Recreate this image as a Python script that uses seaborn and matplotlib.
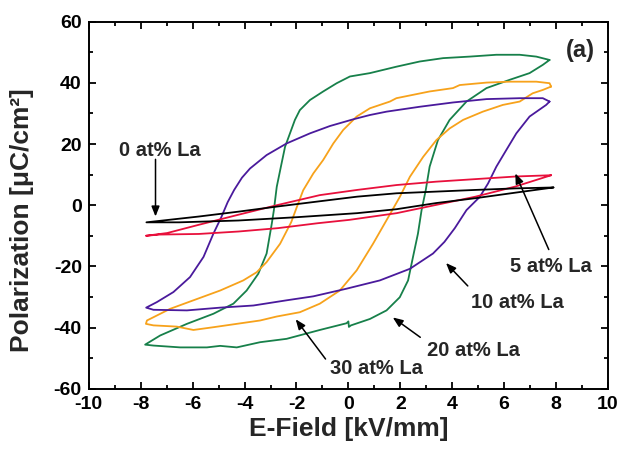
import numpy as np
import pandas as pd
import matplotlib
matplotlib.use("Agg")
import matplotlib.pyplot as plt
from matplotlib.ticker import MultipleLocator
import seaborn as sns

# P-E hysteresis loops, traced from +8 kV/mm down to -8 kV/mm (upper branch)
# and back up to +8 kV/mm (lower branch).

# 0 at% La
e0_up = [7.90, 6.43, 4.90, 1.86, 0.34, -1.19, -2.71, -4.23, -5.76, -7.78]
p0_up = [5.8, 5.5, 5.0, 3.9, 2.8, 1.2, -0.4, -2.1, -3.7, -5.6]
e0_dn = [-7.78, -6.52, -4.23, -1.95, 0.34, 1.86, 3.38, 4.90, 6.43, 7.90]
p0_dn = [-5.6, -5.6, -5.0, -3.9, -2.6, -1.3, 0.7, 2.3, 4.1, 5.8]

# 5 at% La
e5_up = [7.81, 6.47, 3.38, 1.86, 0.34, -1.10, -2.71, -4.23, -5.76, -6.98, -7.80]
p5_up = [9.8, 9.4, 7.7, 6.6, 5.0, 3.3, 0.1, -3.1, -6.4, -9.1, -10.0]
e5_dn = [-7.80, -7.28, -5.76, -4.23, -2.71, -1.19, 0.03, 1.86, 3.38, 4.90, 6.43, 7.81]
p5_dn = [-10.0, -9.6, -9.4, -8.6, -7.5, -5.9, -4.8, -2.6, 0.1, 2.8, 6.1, 9.8]

# 10 at% La
e10_up = [7.75, 7.49, 6.60, 5.32, 4.03, 2.75, 1.47, 0.83, 0.19, -0.71, -1.48,
          -2.38, -3.15, -3.79, -4.10, -4.40, -4.65, -4.90, -5.20, -5.58, -6.10,
          -6.74, -7.38, -7.79]
p10_up = [33.9, 35.0, 35.0, 34.7, 33.6, 32.2, 30.6, 29.5, 28.1, 25.9, 23.5,
          20.2, 16.4, 12.0, 9.0, 5.0, 1.0, -4.0, -9.3, -16.9, -23.5,
          -28.4, -31.7, -33.5]
e10_dn = [-7.79, -7.51, -6.22, -4.94, -3.66, -2.38, -1.35, -0.07, 1.21, 2.37, 3.26,
          3.70, 4.10, 4.55, 5.06, 5.38, 5.70, 6.08, 6.47, 6.98, 7.62, 7.75]
p10_dn = [-33.5, -34.2, -34.4, -33.5, -32.8, -31.1, -29.8, -27.3, -24.6, -20.8, -15.8,
          -12.0, -7.5, -1.6, 2.7, 7.1, 12.6, 18.0, 23.5, 29.0, 32.8, 33.9]

# 20 at% La
e20_up = [7.75, 7.24, 6.60, 5.70, 4.67, 3.65, 2.75, 1.85, 0.83, 0.06, -0.45,
          -0.97, -1.48, -1.87, -2.06, -2.25, -2.44, -2.60, -2.76, -2.87, -2.95,
          -3.15, -3.47, -3.92, -4.43, -5.20, -6.22, -7.25, -7.83]
p20_up = [47.5, 48.6, 49.2, 49.2, 48.6, 48.1, 47.0, 45.3, 43.2, 42.1, 39.9,
          37.2, 34.4, 31.1, 27.9, 23.5, 19.1, 12.6, 6.0, -1.6, -6.0,
          -15.8, -22.4, -27.9, -32.2, -35.5, -38.8, -42.6, -45.6]
e20_dn = [-7.83, -7.51, -6.48, -5.45, -4.94, -4.30, -3.40, -2.38, -1.10, -0.07,
          0.00, 0.02, 0.10, 0.83, 1.47, 1.98, 2.30, 2.49, 2.68, 2.82, 2.98, 3.13,
          3.45, 3.90, 4.55, 5.32, 6.21, 6.98, 7.49, 7.75]
p20_dn = [-45.6, -45.9, -46.5, -46.5, -46.0, -46.5, -44.8, -43.7, -40.8, -38.6,
          -38.0, -39.8, -39.3, -37.2, -34.4, -30.1, -24.6, -16.9, -9.3, -1.6, 4.9, 12.6,
          21.3, 27.9, 33.9, 38.3, 41.0, 43.2, 45.9, 47.5]

# 30 at% La
e30_up = [7.81, 7.75, 7.24, 6.21, 5.32, 4.29, 4.03, 3.13, 1.85, 1.60, 0.83, 0.32,
          -0.20, -0.58, -0.97, -1.35, -1.74, -1.96, -2.20, -2.63, -3.15, -3.53,
          -4.05, -4.94, -5.97, -6.87, -7.76, -7.80]
p30_up = [38.8, 39.9, 40.4, 40.4, 40.1, 39.3, 38.3, 37.2, 35.0, 33.9, 31.7, 29.0,
          24.6, 20.2, 14.8, 10.4, 4.9, 0.0, -5.5, -12.6, -18.6, -21.9,
          -24.6, -27.9, -31.1, -33.9, -37.7, -38.8]
e30_dn = [-7.80, -7.51, -6.61, -5.97, -5.20, -4.30, -3.40, -2.76, -1.87, -1.10,
          -0.33, 0.32, 0.95, 1.47, 1.98, 2.37, 2.88, 3.39, 3.90, 4.42, 5.18, 5.95,
          6.60, 7.10, 7.49, 7.81]
p30_dn = [-38.8, -39.3, -39.7, -40.8, -39.9, -38.8, -37.7, -36.4, -35.0, -32.2,
          -27.9, -21.3, -12.6, -4.9, 2.7, 9.3, 15.8, 21.3, 25.1, 27.9, 30.6, 32.8,
          33.9, 36.6, 37.7, 38.8]

compositions = ["0 at% La", "5 at% La", "10 at% La", "20 at% La", "30 at% La"]
colors = ["#000000", "#e8103c", "#4a1a9c", "#17804a", "#f7a21b"]
loops_e = [e0_up + e0_dn, e5_up + e5_dn, e10_up + e10_dn, e20_up + e20_dn, e30_up + e30_dn]
loops_p = [p0_up + p0_dn, p5_up + p5_dn, p10_up + p10_dn, p20_up + p20_dn, p30_up + p30_dn]

frames = []
for name, e, p in zip(compositions, loops_e, loops_p):
    frames.append(pd.DataFrame({"E": e, "P": p, "La": name, "step": np.arange(len(e))}))
df = pd.concat(frames, ignore_index=True)

sns.set_theme(style="ticks")
plt.rcParams["font.family"] = ["Liberation Sans", "DejaVu Sans"]
plt.rcParams["font.weight"] = "bold"
plt.rcParams["axes.unicode_minus"] = False

fig = plt.figure(figsize=(6.21, 4.53), dpi=100)
ax = fig.add_axes([0.143, 0.142, 0.836, 0.810])

# wide loops first so the thin loops sit on top
order = ["20 at% La", "30 at% La", "10 at% La", "5 at% La", "0 at% La"]
for name in order:
    sub = df[df["La"] == name]
    sns.lineplot(data=sub, x="E", y="P", sort=False, estimator=None,
                 color=colors[compositions.index(name)], linewidth=1.3, ax=ax)

ax.set_xlim(-10, 10)
ax.set_ylim(-60, 60)
ax.xaxis.set_major_locator(MultipleLocator(2))
ax.xaxis.set_minor_locator(MultipleLocator(1))
ax.yaxis.set_major_locator(MultipleLocator(20))
ax.yaxis.set_minor_locator(MultipleLocator(10))
ax.tick_params(which="both", direction="in", top=True, right=True,
               width=1.3, colors="black", labelsize=14, pad=5)
ax.tick_params(which="major", length=5)
ax.tick_params(which="minor", length=3)
for lbl in ax.get_xticklabels() + ax.get_yticklabels():
    lbl.set_fontweight("bold")
for sp in ax.spines.values():
    sp.set_visible(True)
    sp.set_linewidth(1.4)
    sp.set_color("black")

ax.set_xlabel("E-Field [kV/mm]", fontsize=19, fontweight="bold", labelpad=3)
ax.set_ylabel("Polarization [μC/cm²]", fontsize=19, fontweight="bold", labelpad=4)
ax.yaxis.set_label_coords(-0.105, 0.46)

arrow = dict(arrowstyle="-|>,head_length=0.5,head_width=0.2", color="black",
             lw=1.1, shrinkA=0, shrinkB=0)
notes = [
    ("0 at% La", (-7.43, -3.7), (-7.28, 18.0), (-7.43, 15.0)),
    ("5 at% La", (6.43, 10.4), (7.8, -19.9), (7.72, -14.5)),
    ("10 at% La", (3.76, -18.9), (6.5, -31.9), (4.6, -26.4)),
    ("20 at% La", (1.71, -36.7), (4.83, -47.6), (2.77, -43.2)),
    ("30 at% La", (-2.03, -37.3), (1.1, -53.5), (-0.88, -50.3)),
]
for text, tip, txt_pos, tail in notes:
    ax.annotate("", xy=tip, xytext=tail, arrowprops=arrow)
    ax.text(*txt_pos, text, fontsize=14.5, fontweight="bold", ha="center", va="center")

ax.text(8.94, 50.5, "(a)", fontsize=17, fontweight="bold", ha="center", va="center")

fig.savefig("out.png", dpi=100)
